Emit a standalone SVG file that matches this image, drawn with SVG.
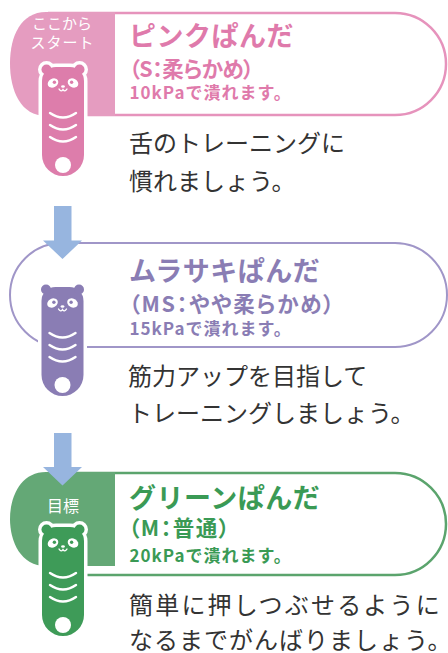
<svg xmlns="http://www.w3.org/2000/svg" xmlns:xlink="http://www.w3.org/1999/xlink" width="448" height="653" viewBox="0 0 448 653">
  <style>
    .jp { font-family: "Noto Sans CJK JP", "Noto Sans", sans-serif; }
    .title { font-weight: 700; font-size: 27px; letter-spacing: 0.5px; }
    .sub { font-weight: 700; font-size: 21.5px; font-feature-settings: "palt"; }
    .kpa { font-weight: 700; font-size: 17px; letter-spacing: 1px; }
    .body { font-size: 24px; fill: #333333; }
    .tag { font-size: 15px; fill: #ffffff; text-anchor: middle; }
    .mark { fill: #ffffff; }
    .line { fill: none; stroke: #ffffff; stroke-width: 2.4; stroke-linecap: round; }
    .halo { fill: #ffffff; stroke: #ffffff; stroke-width: 7; stroke-linejoin: round; }
    .arrow { fill: #97b5df; }
  </style>
  <defs>
    <!-- panda-shaped squeeze trainer; body colour comes from the fill of each <use> -->
    <g id="panda">
      <g class="halo">
        <path d="M-21,14 A14,14 0 0 1 -7,0 H7 A14,14 0 0 1 21,14 V88 A21,21 0 0 1 -21,88 Z"/>
        <circle cx="-16.5" cy="2.5" r="5"/>
        <circle cx="16.5" cy="2.5" r="5"/>
      </g>
      <path d="M-21,14 A14,14 0 0 1 -7,0 H7 A14,14 0 0 1 21,14 V88 A21,21 0 0 1 -21,88 Z"/>
      <circle cx="-16.5" cy="2.5" r="5"/>
      <circle cx="16.5" cy="2.5" r="5"/>
      <ellipse class="mark" cx="-10" cy="16" rx="5.6" ry="4.3" transform="rotate(-30 -10 16)"/>
      <ellipse class="mark" cx="10" cy="16" rx="5.6" ry="4.3" transform="rotate(30 10 16)"/>
      <circle cx="-8.6" cy="15.2" r="1.7"/>
      <circle cx="8.6" cy="15.2" r="1.7"/>
      <ellipse class="mark" cx="0" cy="19.5" rx="1.9" ry="1.3"/>
      <path d="M-4,22 Q-2,25.5 0,22.6 Q2,25.5 4,22" fill="none" stroke="#ffffff" stroke-width="1.4" stroke-linecap="round"/>
      <path class="line" d="M-13,46 Q0,55 13,46"/>
      <path class="line" d="M-13,58 Q0,67 13,58"/>
      <path class="line" d="M-13,70 Q0,79 13,70"/>
      <circle class="mark" cx="0" cy="98" r="8"/>
    </g>
  </defs>

  <!-- step 1: pink -->
  <g id="node-pink">
    <path d="M48,13 H395 A51,51 0 0 1 395,115 H48" fill="none" stroke="#e693bc" stroke-width="2.5"/>
    <path d="M115,12 H46 C21,12 10,36 10,63.5 C10,91 21,116 46,116 H115 Z" fill="#e59cc0"/>
    <text class="jp tag" x="62" y="29">ここから</text>
    <text class="jp tag" x="62.5" y="48" style="letter-spacing:1px">スタート</text>
    <use xlink:href="#panda" transform="translate(63,67)" fill="#dd7dab"/>
    <g class="jp" fill="#df7aab">
      <text class="title" x="129" y="46">ピンクぱんだ</text>
      <text class="sub" x="129" y="77" textLength="125" lengthAdjust="spacing">（S：柔らかめ）</text>
      <text class="kpa" x="129.5" y="99">10kPaで潰れます。</text>
    </g>
    <text class="jp body" x="129" y="152">舌のトレーニングに</text>
    <text class="jp body" x="129" y="190">慣れましょう。</text>
  </g>

  <!-- step 2: purple -->
  <g id="node-purple">
    <path d="M62,243 H395 A52,52 0 0 1 395,347 H62 A52,52 0 0 1 62,243 Z" fill="none" stroke="#a096c8" stroke-width="2"/>
    <use xlink:href="#panda" transform="translate(62.5,287)" fill="#8a7db4"/>
    <g class="jp" fill="#8a7db4">
      <text class="title" x="129" y="281">ムラサキぱんだ</text>
      <text class="sub" x="129" y="312" textLength="205" lengthAdjust="spacing">（MS：やや柔らかめ）</text>
      <text class="kpa" x="129.5" y="335">15kPaで潰れます。</text>
    </g>
    <text class="jp body" x="128" y="385">筋力アップを目指して</text>
    <text class="jp body" x="128" y="422">トレーニングしましょう。</text>
  </g>

  <!-- step 3: green (goal) -->
  <g id="node-green">
    <path d="M48,473 H395 A51,51 0 0 1 395,575 H48" fill="none" stroke="#5ba46d" stroke-width="2.5"/>
    <path d="M115,472 H46 C21,472 10,496 10,519 C10,542 21,566 46,566 H115 Z" fill="#64a876"/>
    <text class="jp tag" x="63" y="512" style="font-size:16px">目標</text>
    <use xlink:href="#panda" transform="translate(63,527)" fill="#3e9b58"/>
    <g class="jp" fill="#3a9a55">
      <text class="title" x="129" y="508">グリーンぱんだ</text>
      <text class="sub" x="128.5" y="536" textLength="101" lengthAdjust="spacing">（M：普通）</text>
      <text class="kpa" x="129.5" y="562">20kPaで潰れます。</text>
    </g>
    <text class="jp body" x="129" y="614" style="letter-spacing:2.2px">簡単に押しつぶせるように</text>
    <text class="jp body" x="129" y="648.5" style="letter-spacing:1px">なるまでがんばりましょう。</text>
  </g>

  <!-- progression arrows -->
  <g id="connectors">
    <path class="arrow" d="M54,206 H71.5 V240.5 H82 L62.5,259 L43,240.5 H54 Z"/>
    <path class="arrow" d="M54,433 H71.5 V467 H82 L62.5,485.5 L43,467 H54 Z"/>
  </g>
</svg>
